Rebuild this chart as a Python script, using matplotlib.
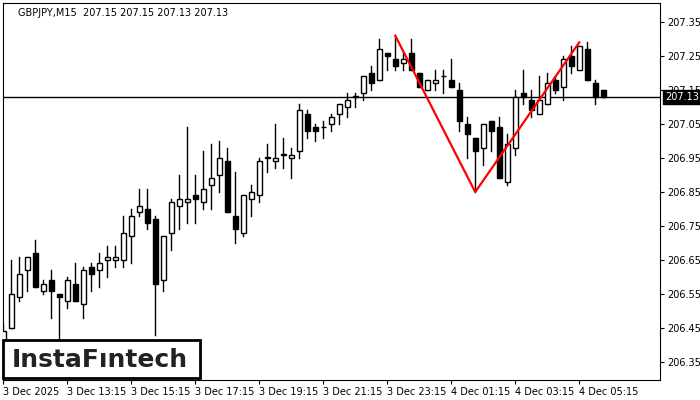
import matplotlib
matplotlib.use('Agg')
import matplotlib.pyplot as plt
from matplotlib.patches import Rectangle

# GBPJPY M15 candles
opens = [206.41, 206.45, 206.54, 206.62, 206.67, 206.56, 206.59, 206.55, 206.53, 206.58,
         206.52, 206.63, 206.62, 206.65, 206.65, 206.65, 206.72, 206.79, 206.80, 206.77,
         206.59, 206.73, 206.81, 206.82, 206.84, 206.82, 206.87, 206.90, 206.94, 206.78,
         206.73, 206.83, 206.84, 206.95, 206.94, 206.96, 206.95, 206.97, 207.08, 207.04,
         207.04, 207.05, 207.08, 207.10, 207.13, 207.14, 207.20, 207.18, 207.26, 207.24,
         207.23, 207.26, 207.20, 207.15, 207.17, 207.19, 207.18, 207.15, 207.05, 207.01,
         206.98, 207.06, 207.04, 206.88, 206.98, 207.14, 207.12, 207.08, 207.11, 207.18,
         207.16, 207.25, 207.21, 207.27, 207.17, 207.15]
highs = [206.46, 206.65, 206.66, 206.66, 206.71, 206.59, 206.62, 206.55, 206.60, 206.64,
         206.63, 206.64, 206.67, 206.69, 206.69, 206.78, 206.80, 206.86, 206.86, 206.78,
         206.72, 206.83, 206.90, 207.04, 206.90, 206.97, 206.99, 207.00, 206.98, 206.91,
         206.84, 206.87, 206.95, 206.99, 207.05, 207.01, 206.98, 207.11, 207.09, 207.05,
         207.06, 207.08, 207.11, 207.14, 207.14, 207.19, 207.22, 207.30, 207.26, 207.31,
         207.26, 207.30, 207.20, 207.18, 207.21, 207.21, 207.24, 207.17, 207.07, 207.01,
         207.05, 207.06, 207.07, 207.02, 207.15, 207.21, 207.15, 207.19, 207.20, 207.19,
         207.25, 207.28, 207.28, 207.29, 207.18, 207.15]
lows = [206.40, 206.45, 206.53, 206.56, 206.57, 206.55, 206.48, 206.415, 206.51, 206.53,
        206.48, 206.56, 206.57, 206.60, 206.63, 206.63, 206.64, 206.78, 206.74, 206.43,
        206.56, 206.68, 206.74, 206.76, 206.76, 206.80, 206.80, 206.85, 206.79, 206.70,
        206.72, 206.78, 206.82, 206.91, 206.92, 206.92, 206.89, 206.95, 207.01, 207.00,
        207.01, 207.03, 207.05, 207.07, 207.10, 207.12, 207.15, 207.18, 207.21, 207.21,
        207.21, 207.21, 207.16, 207.15, 207.15, 207.14, 207.16, 207.03, 206.95, 206.85,
        206.93, 206.97, 206.89, 206.87, 206.96, 207.11, 207.07, 207.08, 207.11, 207.14,
        207.12, 207.20, 207.21, 207.18, 207.11, 207.13]
closes = [206.44, 206.55, 206.61, 206.66, 206.57, 206.58, 206.56, 206.54, 206.59, 206.53,
          206.62, 206.61, 206.64, 206.66, 206.66, 206.73, 206.78, 206.81, 206.76, 206.58,
          206.72, 206.82, 206.83, 206.83, 206.83, 206.86, 206.89, 206.95, 206.79, 206.74,
          206.84, 206.85, 206.94, 206.95, 206.95, 206.96, 206.96, 207.09, 207.03, 207.03,
          207.04, 207.07, 207.11, 207.12, 207.13, 207.19, 207.17, 207.27, 207.25, 207.22,
          207.24, 207.21, 207.16, 207.18, 207.18, 207.19, 207.16, 207.06, 207.02, 206.97,
          207.05, 207.03, 206.89, 206.99, 207.13, 207.13, 207.09, 207.12, 207.17, 207.15,
          207.24, 207.22, 207.28, 207.18, 207.13, 207.13]

xtick_labels = ['3 Dec 2025', '3 Dec 13:15', '3 Dec 15:15', '3 Dec 17:15', '3 Dec 19:15',
                '3 Dec 21:15', '3 Dec 23:15', '4 Dec 01:15', '4 Dec 03:15', '4 Dec 05:15']
ytick_vals = [206.35, 206.45, 206.55, 206.65, 206.75, 206.85, 206.95, 207.05, 207.15, 207.25, 207.35]
pattern_idx = [49, 59, 72]
pattern_px = [207.31, 206.85, 207.29]
last_price = 207.13

fig = plt.figure(figsize=(7, 4), dpi=100)
ax = fig.add_axes([3/700, 20/400, 657/700, 377/400])

for i in range(len(opens)):
    o, h, l, c = opens[i], highs[i], lows[i], closes[i]
    ax.plot([i, i], [l, h], color='black', lw=1, zorder=2)
    bottom = min(o, c)
    height = max(abs(c - o), 0.002)
    face = 'white' if c >= o else 'black'
    ax.add_patch(Rectangle((i - 0.3, bottom), 0.6, height, facecolor=face,
                           edgecolor='black', lw=1, zorder=3))

ax.plot(pattern_idx, pattern_px, color='red', lw=1.6, zorder=4)
ax.axhline(last_price, color='black', lw=1, zorder=1)

ax.set_xlim(-0.04, 82.1)
ax.set_ylim(206.297, 207.406)
ax.set_xticks(range(0, 80, 8))
ax.set_xticklabels(xtick_labels, fontsize=7, ha='left')
ax.yaxis.tick_right()
ax.set_yticks(ytick_vals)
ax.set_yticklabels(['%.2f' % v for v in ytick_vals], fontsize=7)
ax.tick_params(length=3, pad=2)
for s in ax.spines.values():
    s.set_linewidth(0.8)

ax.text(1.008, last_price, '%.2f' % last_price, transform=ax.get_yaxis_transform(),
        fontsize=7, color='white', va='center', ha='left', clip_on=False, zorder=12,
        bbox=dict(facecolor='black', edgecolor='black', pad=1.5))
ax.text(15/657, 1 - 10/377, 'GBPJPY,M15  207.15 207.15 207.13 207.13', transform=ax.transAxes,
        fontsize=7, va='center', ha='left')

# logo box
fig.patches.append(Rectangle((3/700, 1 - 378/400), 197/700, 38/400, transform=fig.transFigure,
                             facecolor='white', edgecolor='black', lw=2, zorder=10))
fig.text(100/700, 1 - 360/400, 'InstaFıntech', fontsize=18, ha='center', va='center',
         color='#222222', fontweight='bold', zorder=11)

fig.savefig('out.png', dpi=100)
